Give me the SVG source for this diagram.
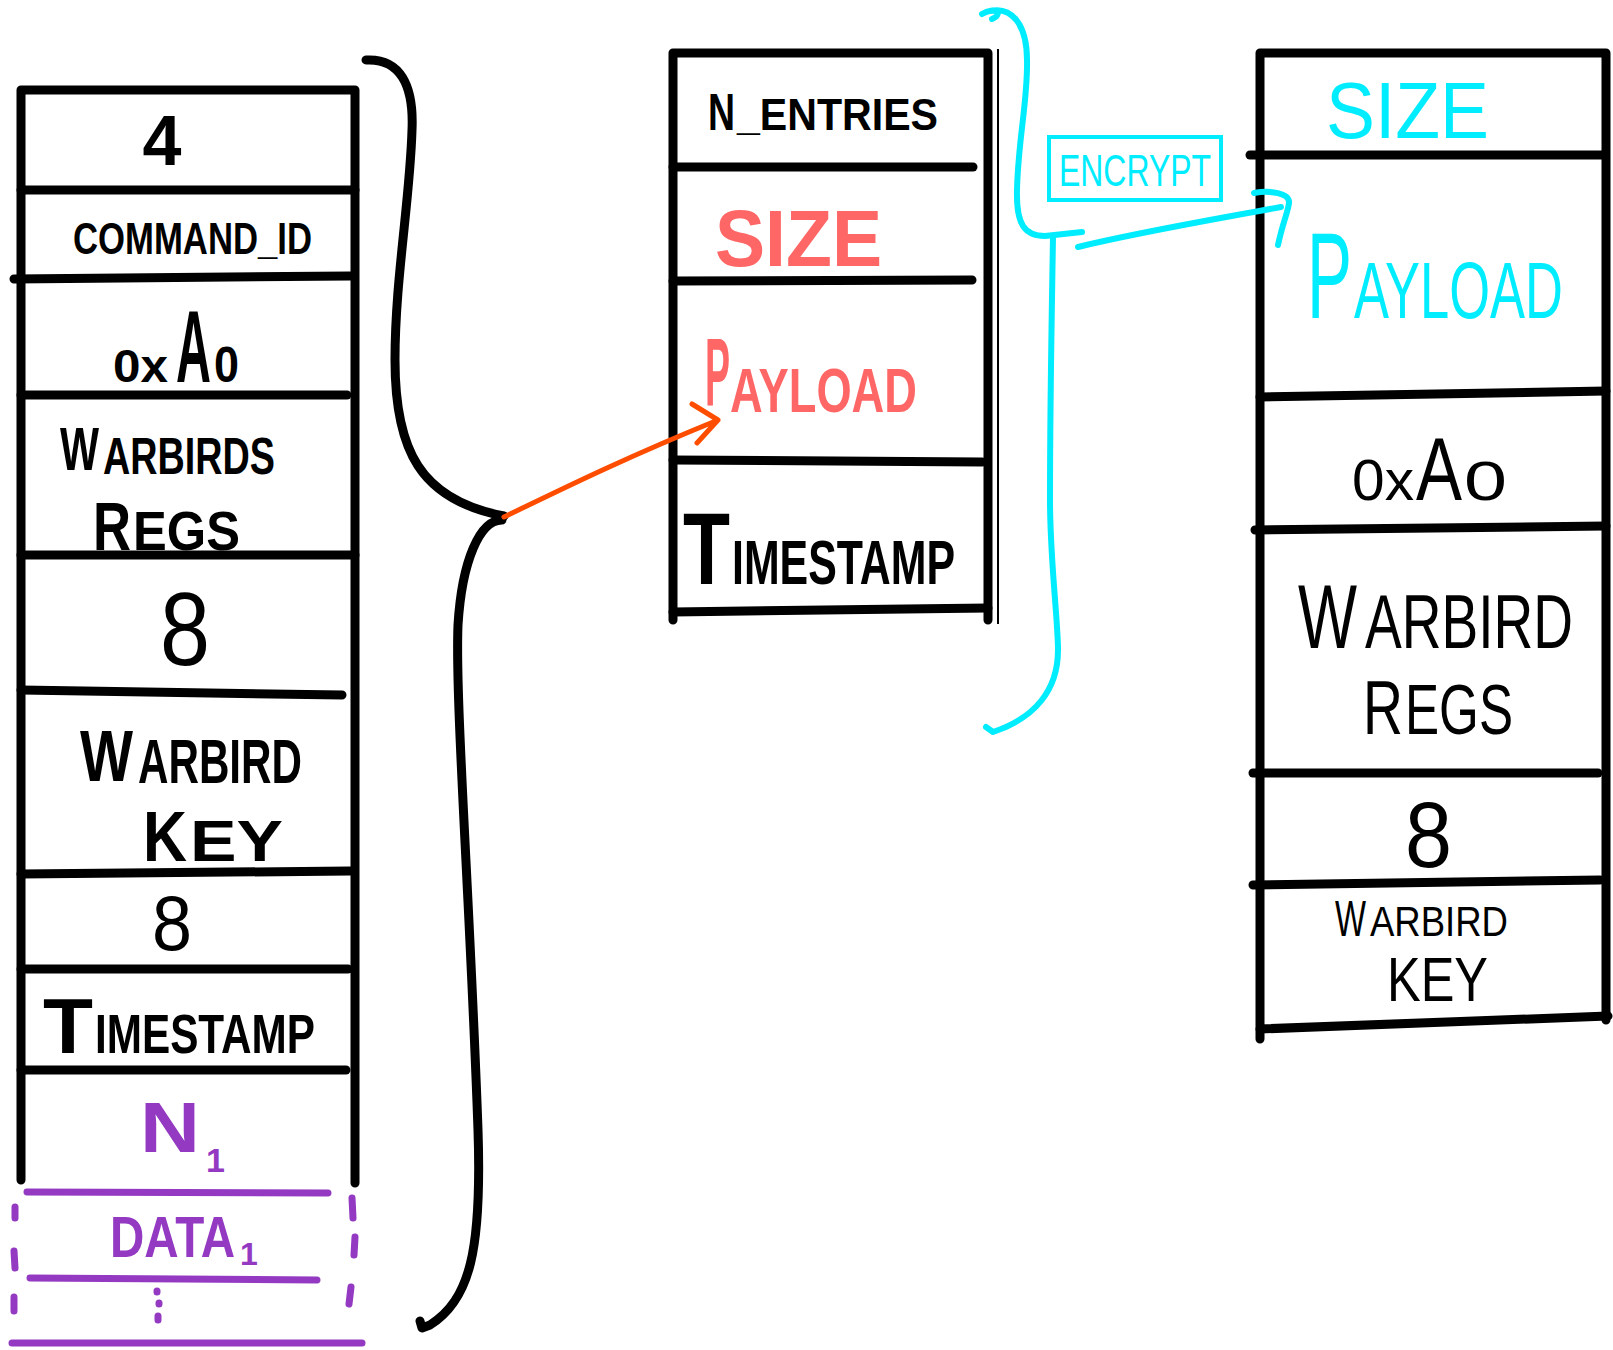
<svg xmlns="http://www.w3.org/2000/svg" width="1613" height="1350" viewBox="0 0 1613 1350">
<style>
.ln{fill:none;stroke:#000;stroke-width:9;stroke-linecap:round;stroke-linejoin:round}
.thin{fill:none;stroke:#000;stroke-width:2}
.pu{fill:none;stroke:#9339c2;stroke-width:7;stroke-linecap:round}
.cy{fill:none;stroke:#00ecff;stroke-width:6;stroke-linecap:round;stroke-linejoin:round}
.t{font-family:"Liberation Sans",Arial,sans-serif;font-weight:700;fill:#000}
.tr{font-family:"Liberation Sans",Arial,sans-serif;font-weight:400;fill:#000}
.red{fill:#ff6666}
.pur{fill:#9339c2}
.cyt{fill:#00ecff}
</style>
<rect width="1613" height="1350" fill="#fff"/>

<g id="left-column">
  <path class="ln" d="M21,1180 V90 H355 V1183"/>
  <path class="ln" d="M21,190 H355"/>
  <path class="ln" d="M14,279 L350,276"/>
  <path class="ln" d="M21,395 H347"/>
  <path class="ln" d="M21,555 H355"/>
  <path class="ln" d="M21,690 L342,695"/>
  <path class="ln" d="M21,874 L350,871"/>
  <path class="ln" d="M21,969 H348"/>
  <path class="ln" d="M21,1070 H346"/>
  <text class="t" x="162" y="165" font-size="70" text-anchor="middle">4</text>
  <text class="t" transform="translate(73,254) scale(1,1.29)" font-size="34" textLength="239" lengthAdjust="spacingAndGlyphs">COMMAND_ID</text>
  <text class="t" x="113" y="382" font-size="46" textLength="55" lengthAdjust="spacingAndGlyphs">0x</text>
  <text class="t" transform="translate(176,382) scale(1,2.13)" font-size="48" textLength="35" lengthAdjust="spacingAndGlyphs">A</text>
  <text class="t" transform="translate(214,382) scale(1,1.15)" font-size="44" textLength="25" lengthAdjust="spacingAndGlyphs">0</text>
  <text class="t" transform="translate(60,470) scale(1,1.55)" font-size="40" textLength="39" lengthAdjust="spacingAndGlyphs">W</text>
  <text class="t" transform="translate(103,474) scale(1,1.4)" font-size="37" textLength="172" lengthAdjust="spacingAndGlyphs">ARBIRDS</text>
  <text class="t" transform="translate(93,550) scale(1,1.33)" font-size="52" textLength="38" lengthAdjust="spacingAndGlyphs">R</text>
  <text class="t" transform="translate(133,550) scale(1,1.1)" font-size="50" textLength="107" lengthAdjust="spacingAndGlyphs">EGS</text>
  <text class="tr" transform="translate(160,665) scale(1,1.16)" font-size="89" textLength="50" lengthAdjust="spacingAndGlyphs">8</text>
  <text class="t" transform="scale(1,1.4)"><tspan x="80" y="557.9" font-size="52" textLength="53" lengthAdjust="spacingAndGlyphs">W</tspan><tspan x="138" y="559.3" font-size="45" textLength="164" lengthAdjust="spacingAndGlyphs">ARBIRD</tspan><tspan x="143" y="615" font-size="50.5" textLength="44" lengthAdjust="spacingAndGlyphs">K</tspan><tspan x="190" y="615" font-size="41" textLength="93" lengthAdjust="spacingAndGlyphs">EY</tspan></text>
  <text class="tr" transform="translate(152,950) scale(1,1.1)" font-size="71" textLength="40" lengthAdjust="spacingAndGlyphs">8</text>
  <text class="t" x="43" y="1053" font-size="78" textLength="50" lengthAdjust="spacingAndGlyphs">T</text>
  <text class="t" transform="translate(95,1053) scale(1,1.34)" font-size="41.5" textLength="220" lengthAdjust="spacingAndGlyphs">IMESTAMP</text>
  <text class="t pur" x="140" y="1152" font-size="70" textLength="60" lengthAdjust="spacingAndGlyphs">N</text>
  <text class="t pur" x="206" y="1172" font-size="34">1</text>
  <path class="pu" d="M27,1192 L328,1193"/>
  <text class="t pur" transform="translate(110,1257) scale(1,1.3)" font-size="44.5" textLength="125" lengthAdjust="spacingAndGlyphs">DATA</text>
  <text class="t pur" x="240" y="1265" font-size="32">1</text>
  <path class="pu" d="M30,1278 L317,1280"/>
  <path class="pu" d="M12,1343 L362,1343"/>
  <path class="pu" d="M15,1207 V1218 M14,1251 L15,1268 M14,1297 V1311 M352,1198 L353,1218 M355,1237 L354,1255 M351,1287 L349,1304"/>
  <path class="pu" d="M157,1291 V1292 M159,1303 V1304 M158,1316 V1320"/>
</g>

<g id="middle-column">
  <path class="ln" d="M673,620 V53 H988 V620"/>
  <path class="thin" d="M998,49 V624"/>
  <path class="ln" d="M673,167 H973"/>
  <path class="ln" d="M673,281 L972,280"/>
  <path class="ln" d="M673,460 L982,462"/>
  <path class="ln" d="M673,612 L988,608"/>
  <text class="t" transform="translate(708,130) scale(1,1.42)" font-size="37" textLength="27" lengthAdjust="spacingAndGlyphs">N</text>
  <text class="t" transform="translate(737,130) scale(1,1.09)" font-size="41" textLength="201" lengthAdjust="spacingAndGlyphs">_ENTRIES</text>
  <text class="t red" transform="translate(715,266) scale(1,1.06)" font-size="75" textLength="167" lengthAdjust="spacingAndGlyphs">SIZE</text>
  <text class="t red" transform="translate(705,405) scale(1,2.6)" font-size="37" textLength="25" lengthAdjust="spacingAndGlyphs">P</text>
  <text class="t red" transform="translate(730,412) scale(1,1.42)" font-size="44" textLength="187" lengthAdjust="spacingAndGlyphs">AYLOAD</text>
  <text class="t" transform="translate(683,584) scale(1,1.34)" font-size="76" textLength="47" lengthAdjust="spacingAndGlyphs">T</text>
  <text class="t" transform="translate(732,584) scale(1,1.49)" font-size="42" textLength="223" lengthAdjust="spacingAndGlyphs">IMESTAMP</text>
</g>

<g id="encrypt-label">
  <rect x="1049" y="137" width="172" height="63" fill="none" stroke="#00ecff" stroke-width="4"/>
  <text class="tr cyt" transform="translate(1059,186) scale(1,1.4)" font-size="31.5" textLength="152" lengthAdjust="spacingAndGlyphs">ENCRYPT</text>
</g>

<g id="right-column">
  <path class="ln" d="M1260,1039 V53 H1606 V1020"/>
  <path class="ln" d="M1250,155 H1602"/>
  <path class="ln" d="M1260,397 L1606,391"/>
  <path class="ln" d="M1255,530 L1606,526"/>
  <path class="ln" d="M1253,773 H1598"/>
  <path class="ln" d="M1253,885 L1600,880"/>
  <path class="ln" d="M1260,1029 L1608,1016"/>
  <text class="tr cyt" transform="translate(1326,138) scale(1,1.09)" font-size="73" textLength="163" lengthAdjust="spacingAndGlyphs">SIZE</text>
  <text class="tr cyt" transform="translate(1307,318) scale(1,1.82)" font-size="67" textLength="45" lengthAdjust="spacingAndGlyphs">P</text>
  <text class="tr cyt" transform="translate(1354,318) scale(1,1.55)" font-size="51" textLength="209" lengthAdjust="spacingAndGlyphs">AYLOAD</text>
  <text class="tr" x="1352" y="500" font-size="58" textLength="62" lengthAdjust="spacingAndGlyphs">0x</text>
  <text class="tr" transform="translate(1416,500) scale(1,1.32)" font-size="68" textLength="46" lengthAdjust="spacingAndGlyphs">A</text>
  <text class="tr" x="1464" y="500" font-size="56" textLength="43" lengthAdjust="spacingAndGlyphs">0</text>
  <text class="tr" transform="scale(1,1.45)"><tspan x="1298" y="446.9" font-size="63" textLength="59" lengthAdjust="spacingAndGlyphs">W</tspan><tspan x="1365" y="446.9" font-size="53" textLength="208" lengthAdjust="spacingAndGlyphs">ARBIRD</tspan><tspan x="1363" y="506.2" font-size="52.5" textLength="40" lengthAdjust="spacingAndGlyphs">R</tspan><tspan x="1405" y="506.2" font-size="48" textLength="108" lengthAdjust="spacingAndGlyphs">EGS</tspan></text>
  <text class="tr" transform="translate(1405,867) scale(1,1.1)" font-size="84" textLength="47" lengthAdjust="spacingAndGlyphs">8</text>
  <text class="tr" transform="translate(1335,936) scale(1,1.55)" font-size="32" textLength="31" lengthAdjust="spacingAndGlyphs">W</text>
  <text class="tr" transform="translate(1370,936) scale(1,1.14)" font-size="36.5" textLength="138" lengthAdjust="spacingAndGlyphs">ARBIRD</text>
  <text class="tr" transform="translate(1387,1001) scale(1,1.27)" font-size="50" textLength="101" lengthAdjust="spacingAndGlyphs">KEY</text>
</g>

<g id="connectors">
  <path class="ln" d="M366,60 C400,58 414,85 412,130 C410,200 395,280 395,360 C395,450 420,500 504,516"/>
  <path class="ln" d="M502,520 C480,520 462,560 458,625 C455,700 470,900 478,1130 C482,1250 470,1300 430,1325 L422,1328 L420,1321"/>
  <path fill="none" stroke="#ff4d00" stroke-width="5" stroke-linecap="round" stroke-linejoin="round" d="M504,517 C560,490 620,460 718,420 M692,404 L718,420 L697,443"/>
  <path class="cy" d="M982,14 C995,6 1004,14 992,19 M990,11 C1012,6 1027,25 1027,60 C1028,100 1018,140 1017,190 C1016,225 1025,236 1045,236 L1082,232"/>
  <path class="cy" d="M1053,237 C1052,300 1050,400 1050,500 C1050,560 1058,620 1058,650 C1058,690 1035,718 993,732 L986,727"/>
  <path class="cy" stroke-width="8" d="M1078,247 C1140,232 1200,222 1281,207"/>
  <path class="cy" stroke-width="5" d="M1254,193 C1270,190 1290,193 1289,203 C1288,212 1283,222 1278,245"/>
</g>
</svg>
